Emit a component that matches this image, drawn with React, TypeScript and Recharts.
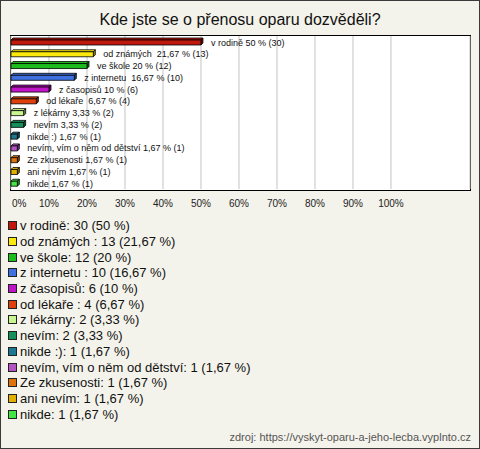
import React from "react";
import { BarChart, Bar, XAxis, YAxis, CartesianGrid, LabelList, Cell } from "recharts";

const categories = [
  "v rodině",
  "od známých ",
  "ve škole",
  "z internetu ",
  "z časopisů",
  "od lékaře ",
  "z lékárny",
  "nevím",
  "nikde :)",
  "nevím, vím o něm od dětství",
  "Ze zkusenosti",
  "ani nevím",
  "nikde",
];
const counts = [30, 13, 12, 10, 6, 4, 2, 2, 1, 1, 1, 1, 1];
const percents = [50, 21.67, 20, 16.67, 10, 6.67, 3.33, 3.33, 1.67, 1.67, 1.67, 1.67, 1.67];
const xTicks = [0, 10, 20, 30, 40, 50, 60, 70, 80, 90, 100];

const COLORS = [
  "#c0180e",
  "#fbe80c",
  "#1cbc1c",
  "#4070e0",
  "#c014c8",
  "#e0400c",
  "#c8f590",
  "#14915a",
  "#1c7890",
  "#b454c4",
  "#e0720e",
  "#e4b000",
  "#44e444",
];

const FONT = "'Liberation Sans', Arial, sans-serif";

const pctText = (p: number) => String(p).replace(".", ",");

const rows = categories.map((name, i) => ({
  name,
  pct: percents[i],
  label: `${name} ${pctText(percents[i])} % (${counts[i]})`,
}));

function darken(hex: string, f: number) {
  const n = parseInt(hex.slice(1), 16);
  const r = Math.round(((n >> 16) & 255) * f);
  const g = Math.round(((n >> 8) & 255) * f);
  const b = Math.round((n & 255) * f);
  return `rgb(${r},${g},${b})`;
}

const Bar3D = (props: any) => {
  const { x, y, width, height, fill } = props;
  if (width == null || height == null) return null;
  const d = 2;
  const top = y + d;
  const h = height - d;
  return (
    <g stroke="#000" strokeWidth={0.8} strokeLinejoin="round">
      <polygon
        points={`${x},${top} ${x + d},${y} ${x + width + d},${y} ${x + width},${top}`}
        fill={fill}
      />
      <polygon
        points={`${x + width},${top} ${x + width + d},${y} ${x + width + d},${y + h} ${x + width},${top + h}`}
        fill={darken(fill, 0.6)}
      />
      <rect x={x} y={top} width={width} height={h} fill={fill} />
    </g>
  );
};

const renderLabel = (props: any) => {
  const { x, y, width, height, value } = props;
  return (
    <text
      x={x + width + 10}
      y={y + height / 2 + 1}
      fontSize={9}
      fontFamily={FONT}
      fill="#111"
      dominantBaseline="central"
      style={{ whiteSpace: "pre" }}
    >
      {value}
    </text>
  );
};

const renderTick = (props: any) => {
  const { x, payload, index } = props;
  return (
    <text
      x={index === 0 ? x + 1 : x}
      y={203}
      fontSize={10}
      fontFamily={FONT}
      fill="#222"
      textAnchor={index === 0 ? "start" : "middle"}
      dominantBaseline="central"
    >
      {payload.value}%
    </text>
  );
};

export default function App() {
  return (
    <div
      style={{
        position: "absolute",
        left: 0,
        top: 0,
        width: 480,
        height: 449,
        boxSizing: "border-box",
        border: "1px solid #3a3a3a",
        background: "#f4f3eb",
        fontFamily: FONT,
      }}
    >
      <div
        style={{
          position: "absolute",
          left: 0,
          right: 0,
          top: 10,
          textAlign: "center",
          fontSize: 16,
          color: "#111",
        }}
      >
        Kde jste se o přenosu oparu dozvěděli?
      </div>
      <div
        style={{
          position: "absolute",
          left: 9,
          top: 34,
          width: 461,
          height: 156,
          boxSizing: "border-box",
          border: "1px solid #000",
          background: "#fff",
        }}
      />
      <div style={{ position: "absolute", left: -1, top: -1 }}>
        <BarChart
          width={480}
          height={215}
          data={rows}
          layout="vertical"
          margin={{ top: 36, right: 10, left: 11, bottom: 0 }}
        >
          <CartesianGrid horizontal={false} stroke="#c4c4c4" />
          <XAxis
            type="number"
            domain={[0, 120.8]}
            ticks={xTicks}
            axisLine={false}
            tickLine={false}
            tick={renderTick}
            height={26}
            interval={0}
          />
          <YAxis type="category" dataKey="name" hide />
          <Bar dataKey="pct" barSize={7} shape={<Bar3D />} isAnimationActive={false}>
            {rows.map((r, i) => (
              <Cell key={r.name} fill={COLORS[i]} />
            ))}
            <LabelList dataKey="label" content={renderLabel} />
          </Bar>
        </BarChart>
      </div>
      <div style={{ position: "absolute", left: 7, top: 217 }}>
        {categories.map((name, i) => (
          <div
            key={name + i}
            style={{
              height: 15.7,
              display: "flex",
              alignItems: "center",
              fontSize: 13,
              color: "#111",
              whiteSpace: "pre",
            }}
          >
            <span
              style={{
                display: "inline-block",
                width: 9,
                height: 9,
                boxSizing: "border-box",
                border: "1px solid #222",
                background: COLORS[i],
                marginRight: 3,
              }}
            />
            {`${name}: ${counts[i]} (${pctText(percents[i])} %)`}
          </div>
        ))}
      </div>
      <div
        style={{
          position: "absolute",
          right: 8,
          top: 430,
          fontSize: 11,
          color: "#555",
        }}
      >
        zdroj: https://vyskyt-oparu-a-jeho-lecba.vyplnto.cz
      </div>
    </div>
  );
}
